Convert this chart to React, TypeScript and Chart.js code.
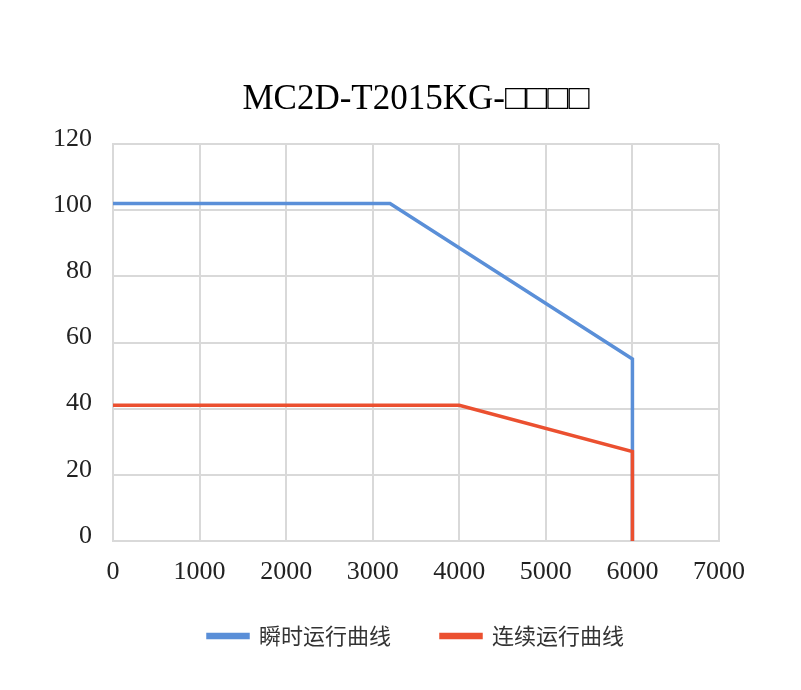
import { useEffect, useRef } from "react"
import { Chart, registerables } from "chart.js"

Chart.register(...registerables)

const title = "MC2D-T2015KG-□□□□"
const seriesNames = ["瞬时运行曲线", "连续运行曲线"]
const peakSpeed = [0, 3200, 6000, 6000]
const peakTorque = [102, 102, 55, 0]
const contSpeed = [0, 4000, 6000, 6000]
const contTorque = [41, 41, 27, 0]
const xTicks = [0, 1000, 2000, 3000, 4000, 5000, 6000, 7000]
const yTicks = [0, 20, 40, 60, 80, 100, 120]

const toPoints = (xs: number[], ys: number[]) => xs.map((x, i) => ({ x, y: ys[i] }))

export default function App() {
  const chartRef = useRef<HTMLCanvasElement>(null)
  const chartInstance = useRef<Chart | null>(null)

  useEffect(() => {
    document.body.style.margin = "0"
    if (!chartRef.current) return
    if (chartInstance.current) chartInstance.current.destroy()
    const ctx = chartRef.current.getContext("2d")
    if (!ctx) return

    const tickFont = { family: "Liberation Serif", size: 26 }

    chartInstance.current = new Chart(ctx, {
      type: "line",
      data: {
        datasets: [
          {
            label: seriesNames[0],
            data: toPoints(peakSpeed, peakTorque),
            borderColor: "#5A8FD8",
            backgroundColor: "#5A8FD8",
            borderWidth: 3.5,
            pointRadius: 0,
            order: 1,
          },
          {
            label: seriesNames[1],
            data: toPoints(contSpeed, contTorque),
            borderColor: "#EB5030",
            backgroundColor: "#EB5030",
            borderWidth: 3.5,
            pointRadius: 0,
            order: 0,
          },
        ],
      },
      options: {
        animation: false,
        responsive: false,
        layout: { padding: { left: 0, right: 82, top: 0, bottom: 33 } },
        plugins: {
          title: {
            display: true,
            fullSize: false,
            text: title,
            color: "#000",
            font: { family: "Liberation Serif", size: 35, weight: "normal" },
            padding: { top: 79, bottom: 23 },
          },
          legend: {
            position: "bottom",
            fullSize: false,
            labels: {
              sort: (a, b) => (a.datasetIndex ?? 0) - (b.datasetIndex ?? 0),
              boxWidth: 40,
              boxHeight: 3,
              padding: 50,
              color: "#333",
              font: { family: "Noto Sans CJK SC", size: 22 },
            },
          },
          tooltip: { enabled: false },
        },
        scales: {
          x: {
            type: "linear",
            min: 0,
            max: 7000,
            afterBuildTicks: (scale) => {
              scale.ticks = xTicks.map((v) => ({ value: v }))
            },
            afterFit: (scale: any) => {
              scale.height = 34
              // let the labels run below the (short) axis box
              scale._computeLabelArea = () => undefined
            },
            grid: { color: "#d9d9d9", lineWidth: 2, drawTicks: false },
            border: { color: "#d9d9d9", width: 2 },
            ticks: {
              color: "#222",
              font: tickFont,
              padding: 16,
              maxRotation: 0,
              callback: (v) => String(v),
            },
          },
          y: {
            min: 0,
            max: 120,
            afterBuildTicks: (scale) => {
              scale.ticks = yTicks.map((v) => ({ value: v }))
            },
            afterFit: (scale) => {
              scale.width = 113
            },
            grid: { color: "#d9d9d9", lineWidth: 2, drawTicks: false },
            border: { color: "#d9d9d9", width: 2 },
            ticks: {
              color: "#222",
              font: tickFont,
              padding: 21,
              labelOffset: -5,
              callback: (v) => String(v),
            },
          },
        },
      },
    })

    return () => {
      if (chartInstance.current) chartInstance.current.destroy()
    }
  }, [])

  return (
    <div style={{ width: 801, height: 690 }}>
      <canvas ref={chartRef} width={801} height={690} />
    </div>
  )
}
